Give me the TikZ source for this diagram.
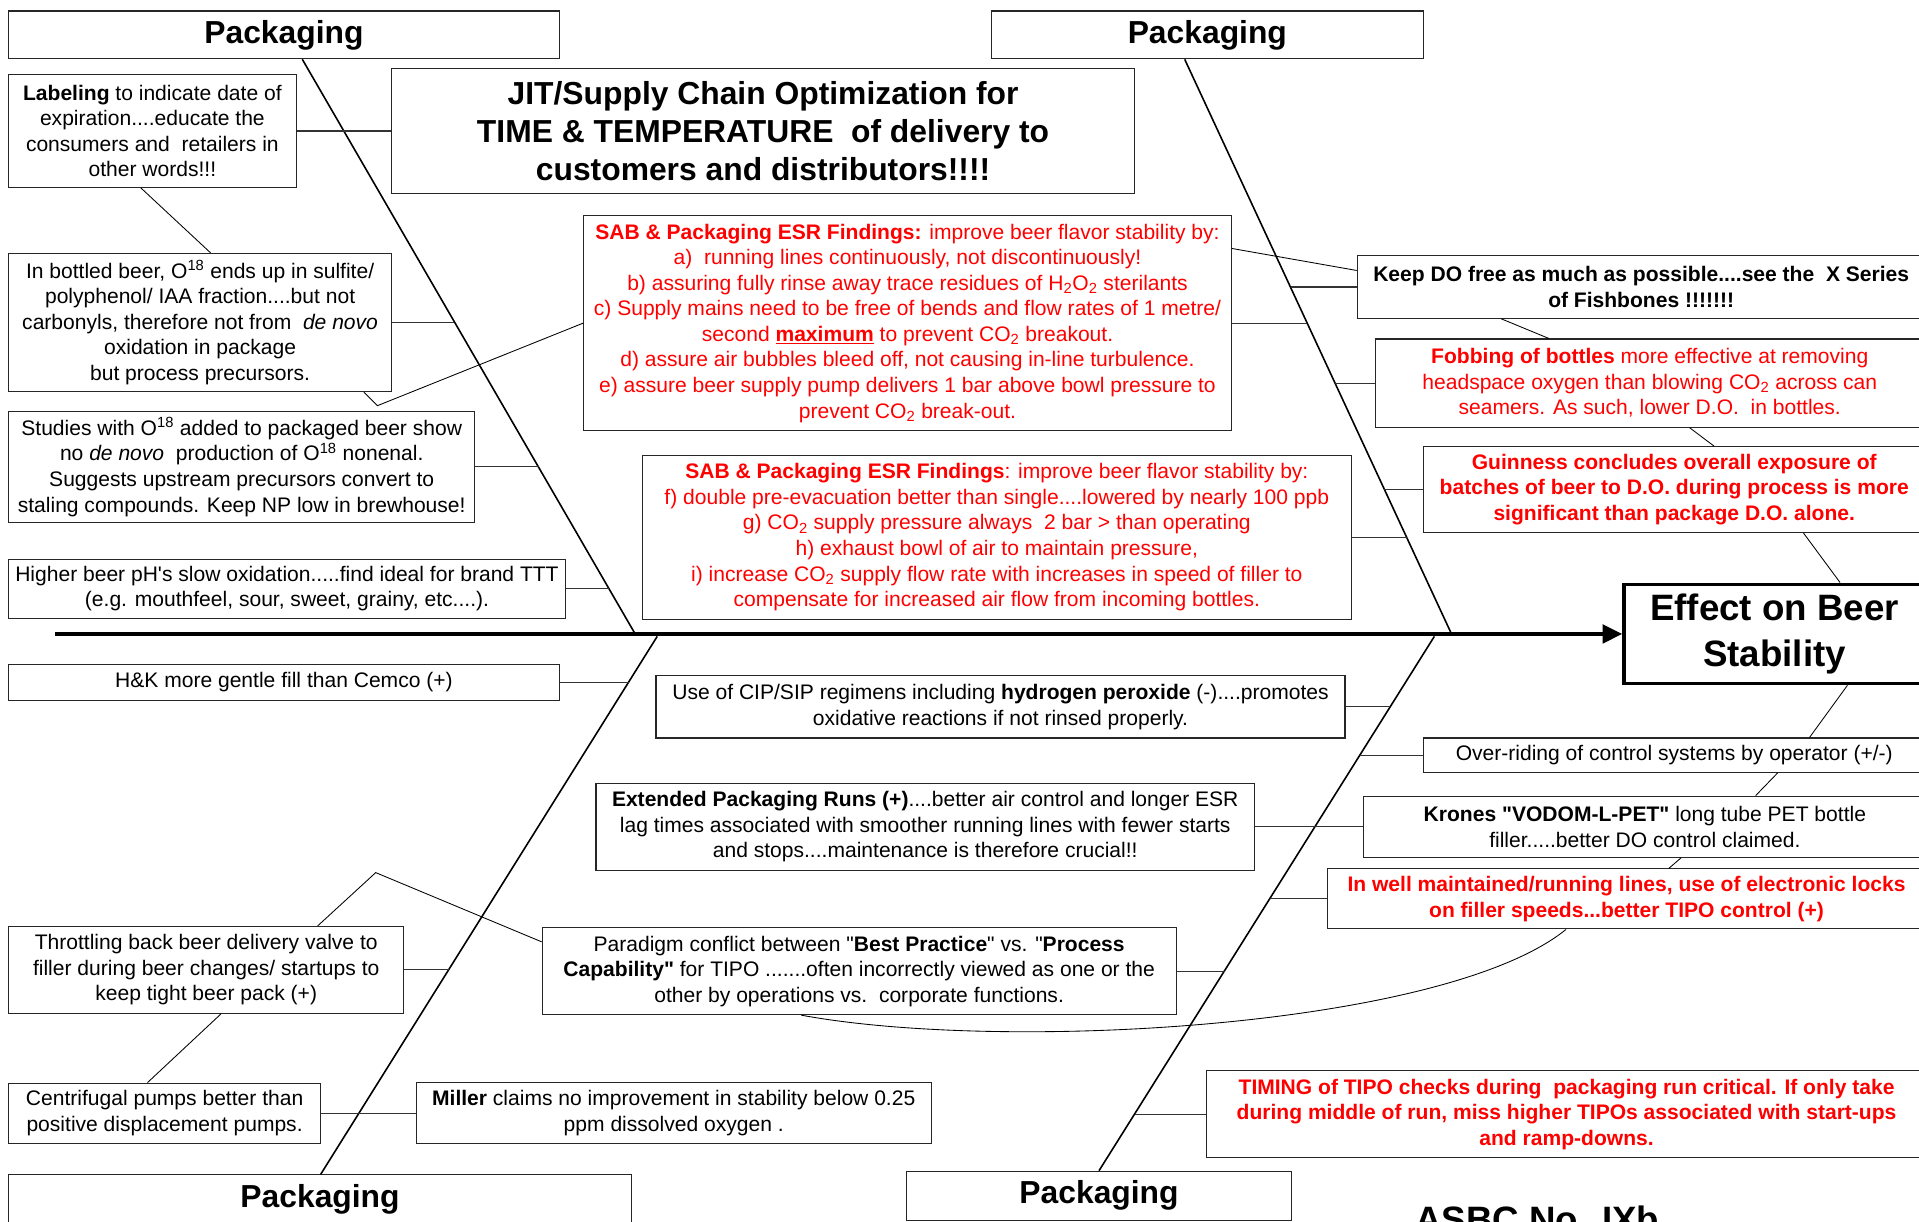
\documentclass[tikz,border=0pt]{standalone}
\usepackage{fontspec}
\setmainfont{Liberation Sans}[Ligatures=TeXOff]
\usepackage{tikz}
\usetikzlibrary{calc,positioning,arrows.meta}

\begin{document}
\begin{tikzpicture}[x=1pt, y=-1pt]
  \path[use as bounding box, fill=white] (0,0) rectangle (1568,998);

  % ---- Styles -------------------------------------------------
  \tikzstyle{box}=[draw=black!85, line width=0.9pt, inner sep=1pt,
                   align=center, font=\fontsize{17.2}{20.9}\selectfont]
  \tikzstyle{redbox}=[box, text=red]
  \tikzstyle{head}=[draw=black!85, line width=0.9pt, inner sep=1pt,
                    align=center, font=\fontsize{26}{31}\selectfont\bfseries]
  \tikzstyle{bone}=[line width=1.3pt]
  \tikzstyle{stub}=[line width=0.9pt, black!80]
  \tikzstyle{link}=[line width=0.7pt]

  % ---- Category heads -----------------------------------------
  \node[head, minimum width=450pt, minimum height=39pt] (pkgTL) at (232,28.5)   {Packaging};
  \node[head, minimum width=353pt, minimum height=39pt] (pkgTR) at (986.5,28.5) {Packaging};
  \node[head, minimum width=509pt, minimum height=40pt] (pkgBL) at (261.5,980)  {Packaging};
  \node[head, minimum width=314pt, minimum height=40pt] (pkgBM) at (898,977)    {Packaging};

  % ---- Effect (fish head) and spine ---------------------------
  \node[draw, line width=3pt, align=center, minimum width=246pt, minimum height=81pt,
        font=\fontsize{30}{37}\selectfont\bfseries] (effect) at (1450,518)
        {Effect on Beer\\Stability};
  \coordinate (tail) at (45,518);
  \draw[line width=3.2pt, -{Triangle[length=16pt,width=15pt]}] (tail) -- (effect);

  % ---- Bones ---------------------------------------------------
  \coordinate (tlFoot) at (519,518);
  \coordinate (trFoot) at (1186,518);
  \coordinate (blFoot) at (537,520);
  \coordinate (brFoot) at (1172,520);
  \draw[bone] ([xshift=15pt]pkgTL.south)    -- (tlFoot);
  \draw[bone] ([xshift=-18.5pt]pkgTR.south) -- (trFoot);
  \draw[bone] (blFoot) -- ([xshift=0.5pt]pkgBL.north);
  \draw[bone] (brFoot) -- (pkgBM.north);

  % ---- Upper left causes --------------------------------------
  \node[box, minimum width=235pt, minimum height=92pt] (lab) at (124.5,107)
    {\textbf{Labeling} to indicate date of\\ expiration....educate the\\
     consumers and\ \ retailers in\\ other words!!!};
  \node[head, minimum width=607pt, minimum height=102pt, font=\fontsize{26}{31}\selectfont\bfseries]
    (jit) at (623.5,107)
    {JIT/Supply Chain Optimization for\\ TIME \& TEMPERATURE\ \ of delivery to\\
     customers and distributors!!!!};
  \node[box, minimum width=313pt, minimum height=113pt] (bottled) at (163.5,263.5)
    {In bottled beer, O\textsuperscript{18} ends up in sulfite/\\
     polyphenol/ IAA fraction....but not\\
     carbonyls, therefore not from\ \ \textit{de novo}\\
     oxidation in package\\ but process precursors.};
  \node[box, minimum width=381pt, minimum height=91pt] (studies) at (197.5,381.5)
    {Studies with O\textsuperscript{18} added to packaged beer show\\
     no \textit{de novo}\ \ production of O\textsuperscript{18} nonenal.\\
     Suggests upstream precursors convert to\\
     staling compounds. Keep NP low in brewhouse!};
  \node[box, minimum width=455pt, minimum height=48pt] (higher) at (234.5,481)
    {Higher beer pH's slow oxidation.....find ideal for brand TTT\\
     (e.g. mouthfeel, sour, sweet, grainy, etc....).};

  % ---- ESR findings -------------------------------------------
  \node[redbox, minimum width=529pt, minimum height=176pt] (sab1) at (741.5,264)
    {\textbf{SAB \& Packaging ESR Findings:} improve beer flavor stability by:\\
     a)\ \ running lines continuously, not discontinuously!\\
     b) assuring fully rinse away trace residues of H\textsubscript{2}O\textsubscript{2} sterilants\\
     c) Supply mains need to be free of bends and flow rates of 1 metre/\\
     second \underline{\textbf{maximum}} to prevent CO\textsubscript{2} breakout.\\
     d) assure air bubbles bleed off, not causing in-line turbulence.\\
     e) assure beer supply pump delivers 1 bar above bowl pressure to\\
     prevent CO\textsubscript{2} break-out.};
  \node[redbox, minimum width=579pt, minimum height=134pt] (sab2) at (814.5,439)
    {\textbf{SAB \& Packaging ESR Findings}: improve beer flavor stability by:\\
     f) double pre-evacuation better than single....lowered by nearly 100 ppb\\
     g) CO\textsubscript{2} supply pressure always\ \ 2 bar > than operating\\
     h) exhaust bowl of air to maintain pressure,\\
     i) increase CO\textsubscript{2} supply flow rate with increases in speed of filler to\\
     compensate for increased air flow from incoming bottles.};

  % ---- Upper right causes -------------------------------------
  \node[box, minimum width=464pt, minimum height=51pt, font=\fontsize{17.2}{20.9}\selectfont\bfseries]
    (keepdo) at (1341,234.5)
    {Keep DO free as much as possible....see the\ \ X Series\\ of Fishbones !!!!!!!};
  \node[redbox, minimum width=448pt, minimum height=72pt] (fobbing) at (1348,313)
    {\textbf{Fobbing of bottles} more effective at removing\\
     headspace oxygen than blowing CO\textsubscript{2} across can\\
     seamers. As such, lower D.O.\ \ in bottles.};
  \node[redbox, minimum width=410pt, minimum height=70pt, font=\fontsize{17.2}{20.9}\selectfont\bfseries]
    (guinness) at (1368,400)
    {Guinness concludes overall exposure of\\
     batches of beer to D.O. during process is more\\
     significant than package D.O. alone.};

  % ---- Lower left causes --------------------------------------
  \node[box, minimum width=450pt, minimum height=29pt] (hk) at (232,557.5)
    {H\&K more gentle fill than Cemco (+)};
  \node[box, minimum width=323pt, minimum height=71pt] (throttle) at (168.5,792.5)
    {Throttling back beer delivery valve to\\
     filler during beer changes/ startups to\\ keep tight beer pack (+)};
  \node[box, minimum width=255pt, minimum height=49pt] (centri) at (134.5,909.5)
    {Centrifugal pumps better than\\ positive displacement pumps.};
  \node[box, minimum width=421pt, minimum height=50pt] (miller) at (550.5,909.5)
    {\textbf{Miller} claims no improvement in stability below 0.25\\ ppm dissolved oxygen .};

  % ---- Lower middle causes ------------------------------------
  \node[box, minimum width=563pt, minimum height=51pt] (cip) at (817.5,577.5)
    {Use of CIP/SIP regimens including \textbf{hydrogen peroxide} (-)....promotes\\
     oxidative reactions if not rinsed properly.};
  \node[box, minimum width=538pt, minimum height=71pt] (extended) at (756,675.5)
    {\textbf{Extended Packaging Runs (+)}....better air control and longer ESR\\
     lag times associated with smoother running lines with fewer starts\\
     and stops....maintenance is therefore crucial!!};
  \node[box, minimum width=518pt, minimum height=71pt] (paradigm) at (702,793.5)
    {Paradigm conflict between "\textbf{Best Practice}" vs. "\textbf{Process}\\
     \textbf{Capability"} for TIPO .......often incorrectly viewed as one or the\\
     other by operations vs.\ \ corporate functions.};

  % ---- Lower right causes -------------------------------------
  \node[box, minimum width=410pt, minimum height=28pt] (over) at (1368,617)
    {Over-riding of control systems by operator (+/-)};
  \node[box, minimum width=460pt, minimum height=50pt] (krones) at (1344,675.5)
    {\textbf{Krones "VODOM-L-PET"} long tube PET bottle\\
     filler.....better DO control claimed.};
  \node[redbox, minimum width=488pt, minimum height=49pt, font=\fontsize{17.2}{20.9}\selectfont\bfseries]
    (inwell) at (1329,734.5)
    {In well maintained/running lines, use of electronic locks\\
     on filler speeds...better TIPO control (+)};
  \node[redbox, minimum width=588pt, minimum height=71pt, font=\fontsize{17.2}{20.9}\selectfont\bfseries]
    (timing) at (1280,910.5)
    {TIMING of TIPO checks during\ \ packaging run critical. If only take\\
     during middle of run, miss higher TIPOs associated with start-ups\\
     and ramp-downs.};

  \node[font=\fontsize{30}{36}\selectfont\bfseries, anchor=base] (asbc) at (1256,1007)
    {ASBC No. IXb};

  % ---- Stubs onto the bones -----------------------------------
  \coordinate (bBottled) at (371,263.5);
  \coordinate (bStudies) at (440,381.5);
  \coordinate (bHigher)  at (498,481);
  \coordinate (bSab1)    at (1068,264);
  \coordinate (bKeep)    at (1054.5,234.5);
  \coordinate (bFob)     at (1091,313);
  \coordinate (bGuin)    at (1131,400);
  \coordinate (bSab2)    at (1150,439);
  \coordinate (bHK)      at (514,557.5);
  \coordinate (bThrot)   at (367,792.5);
  \coordinate (bCip)     at (1136,577.5);
  \coordinate (bOver)    at (1111,617);
  \coordinate (bWell)    at (1037.5,734.5);
  \coordinate (bPara)    at (1001,793.5);
  \coordinate (bTime)    at (927,910.5);

  \draw[stub] (lab) -- (jit);
  \draw[stub] (bottled) -- (bBottled);
  \draw[stub] (studies) -- (bStudies);
  \draw[stub] (higher) -- (bHigher);
  \draw[stub] (sab1) -- (bSab1);
  \draw[stub] (bKeep) -- (keepdo);
  \draw[stub] (bFob) -- (fobbing);
  \draw[stub] (bGuin) -- (guinness);
  \draw[stub] (sab2) -- (bSab2);
  \draw[stub] (hk) -- (bHK);
  \draw[stub] (throttle) -- (bThrot);
  \draw[stub] (centri) -- (miller);
  \draw[stub] (cip) -- (bCip);
  \draw[stub] (bOver) -- (over);
  \draw[stub] (extended) -- (krones);
  \draw[stub] (bWell) -- (inwell);
  \draw[stub] (paradigm) -- (bPara);
  \draw[stub] (bTime) -- (timing);

  % ---- Thin links between boxes -------------------------------
  \coordinate (kink) at (307,713);
  \draw[link] ([xshift=-9.5pt]lab.south) -- ([xshift=8.5pt]bottled.north);
  \draw[link] ([xshift=-23pt]bottled.south east) -- ++(11,11) -- (sab1.west);
  \draw[link] ([yshift=61pt]sab1.east) -- ([yshift=13.5pt]keepdo.west);
  \draw[link] ([xshift=118pt]keepdo.south west) -- ([xshift=142pt]fobbing.north west);
  \draw[link] ([xshift=257pt]fobbing.south west) -- ([xshift=238pt]guinness.north west);
  \draw[link] ([xshift=311pt]guinness.south west) -- ([xshift=178pt]effect.north west);
  \draw[link] ([xshift=184pt]effect.south west) -- ([xshift=316pt]over.north west);
  \draw[link] ([xshift=290pt]over.south west) -- ([xshift=321pt]krones.north west);
  \draw[link] ([xshift=260pt]krones.south west) -- ([xshift=279pt]inwell.north west);
  \draw[link] ([xshift=195pt]inwell.south west)
    .. controls (1180,840) and (820,860) .. ([xshift=212pt]paradigm.south west);
  \draw[link] ([xshift=253pt]throttle.north west) -- (kink) -- ([yshift=-12pt]paradigm.north west);
  \draw[link] ([xshift=174pt]throttle.south west) -- ([xshift=114pt]centri.north west);

\end{tikzpicture}
\end{document}
